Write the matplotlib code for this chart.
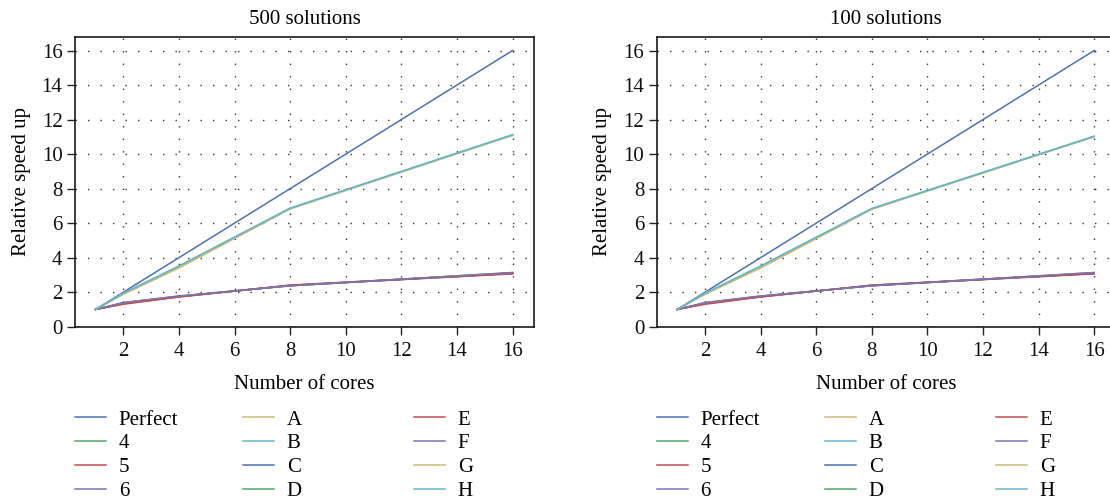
import matplotlib
matplotlib.use("Agg")
import matplotlib.pyplot as plt

plt.rcParams['font.family'] = ['Liberation Serif', 'DejaVu Serif']

cores = [1, 2, 4, 8, 16]
labels = ["Perfect", "4", "5", "6", "A", "B", "C", "D", "E", "F", "G", "H"]
colors = ["#4C72B0", "#55A868", "#C44E52", "#8172B2", "#CCB974", "#64B5CD",
          "#4C72B0", "#55A868", "#C44E52", "#8172B2", "#CCB974", "#64B5CD"]

# 500 solutions
s500 = {
    "Perfect": [1, 2, 4, 8, 16],
    "4": [1, 1.36, 1.75, 2.38, 3.08],
    "5": [1, 1.33, 1.72, 2.40, 3.06],
    "6": [1, 1.39, 1.77, 2.37, 3.12],
    "A": [1, 1.88, 3.40, 6.82, 11.10],
    "B": [1, 1.93, 3.50, 6.86, 11.12],
    "C": [1, 1.37, 1.76, 2.38, 3.10],
    "D": [1, 1.35, 1.74, 2.39, 3.13],
    "E": [1, 1.30, 1.73, 2.41, 3.09],
    "F": [1, 1.40, 1.78, 2.37, 3.14],
    "G": [1, 1.90, 3.44, 6.84, 11.08],
    "H": [1, 1.94, 3.52, 6.87, 11.12],
}
# 100 solutions
s100 = {
    "Perfect": [1, 2, 4, 8, 16],
    "4": [1, 1.36, 1.75, 2.38, 3.08],
    "5": [1, 1.33, 1.72, 2.40, 3.06],
    "6": [1, 1.39, 1.77, 2.37, 3.12],
    "A": [1, 1.88, 3.40, 6.80, 11.02],
    "B": [1, 1.93, 3.50, 6.84, 11.03],
    "C": [1, 1.37, 1.76, 2.38, 3.10],
    "D": [1, 1.35, 1.74, 2.39, 3.13],
    "E": [1, 1.30, 1.73, 2.41, 3.09],
    "F": [1, 1.40, 1.78, 2.37, 3.14],
    "G": [1, 1.90, 3.44, 6.82, 11.00],
    "H": [1, 1.94, 3.52, 6.85, 11.03],
}
titles = ["500 solutions", "100 solutions"]
xticks = [2, 4, 6, 8, 10, 12, 14, 16]
yticks = [0, 2, 4, 6, 8, 10, 12, 14, 16]

W, H = 1110, 501
fig = plt.figure(figsize=(W / 100, H / 100), dpi=100)
FS = 15

panels = [(75, 534), (656.7, 1115.6)]
legend_cols = [(75, 243, 414), (656.7, 825, 996)]
for p, (data, title) in enumerate(zip([s500, s100], titles)):
    x0, x1 = panels[p]
    ax = fig.add_axes([x0 / W, 1 - 326.7 / H, (x1 - x0) / W, (326.7 - 36.7) / H])
    handles = []
    for lab, col in zip(labels, colors):
        h, = ax.plot(cores, data[lab], color=col, lw=1.1, label=lab)
        handles.append(h)
    ax.set_xlim(0.26, 16.77)
    ax.set_ylim(0, 16.8)
    ax.set_xticks(xticks)
    ax.set_yticks(yticks)
    ax.grid(True, color="#333333", linestyle=(0, (1, 8)), linewidth=1.0)
    ax.tick_params(direction="out", length=6, width=1.0, labelsize=FS, colors="#222222",
                   labelcolor="#111111")
    ax.tick_params(axis="x", pad=5)
    ax.tick_params(axis="y", pad=3)
    for s in ax.spines.values():
        s.set_linewidth(1.2)
        s.set_color("#1a1a1a")
    ax.set_title(title, fontsize=FS, pad=9)
    ax.set_xlabel("Number of cores", fontsize=FS, labelpad=10)
    ax.set_ylabel("Relative speed up", fontsize=FS, labelpad=8)
    for c in range(3):
        hs = handles[c * 4:(c + 1) * 4]
        fig.legend(handles=hs, labels=[h.get_label() for h in hs],
                   loc="upper left", bbox_to_anchor=(legend_cols[p][c] / W, 1 - 410 / H),
                   frameon=False, fontsize=FS, handlelength=1.51, handletextpad=0.59,
                   borderpad=0, borderaxespad=0, labelspacing=0.2)

fig.savefig("out.png", dpi=100)
